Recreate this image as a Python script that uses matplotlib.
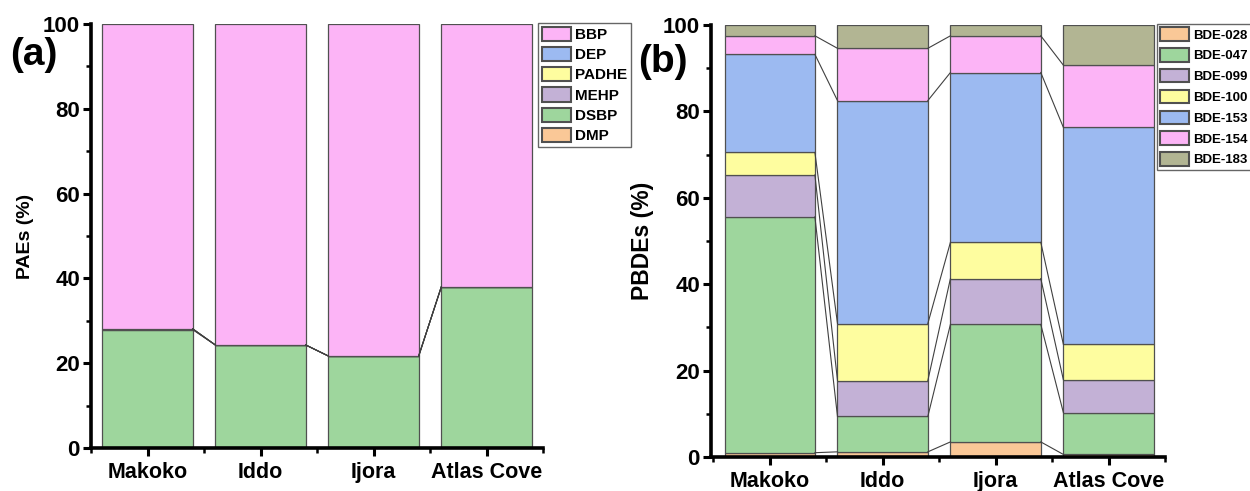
import numpy as np
import matplotlib
matplotlib.use("Agg")
import matplotlib.pyplot as plt
from matplotlib.ticker import MultipleLocator
from matplotlib.patches import Patch

plt.rcParams["font.family"] = ["Liberation Sans", "DejaVu Sans"]
plt.rcParams["font.weight"] = "bold"

sites = ["Makoko", "Iddo", "Ijora", "Atlas Cove"]

# PAEs composition (%) - stacked bottom to top
pae_names = ["DMP", "DSBP", "MEHP", "PADHE", "DEP", "BBP"]
dmp = [0.0, 0.0, 0.0, 0.0]
dsbp = [27.9, 24.3, 21.7, 38.0]
mehp = [0.2, 0.0, 0.0, 0.0]
padhe = [0.0, 0.0, 0.0, 0.0]
dep = [0.0, 0.0, 0.0, 0.0]
bbp = [71.9, 75.7, 78.3, 62.0]

# PBDEs composition (%) - stacked bottom to top
pbde_names = ["BDE-028", "BDE-047", "BDE-099", "BDE-100", "BDE-153", "BDE-154", "BDE-183"]
bde028 = [1.0, 1.2, 3.5, 0.6]
bde047 = [54.6, 8.2, 27.2, 9.7]
bde099 = [9.7, 8.3, 10.6, 7.6]
bde100 = [5.2, 13.2, 8.4, 8.2]
bde153 = [22.7, 51.6, 39.3, 50.2]
bde154 = [4.3, 12.1, 8.5, 14.4]
bde183 = [2.5, 5.4, 2.5, 9.3]

c_orange = "#FAC897"
c_green = "#9ED69D"
c_purple = "#C3B1D6"
c_yellow = "#FEFD9F"
c_blue = "#9CBAF1"
c_pink = "#FCB4F6"
c_olive = "#B2B593"

pae_colors = [c_orange, c_green, c_purple, c_yellow, c_blue, c_pink]
pbde_colors = [c_orange, c_green, c_purple, c_yellow, c_blue, c_pink, c_olive]

x = np.arange(1, len(sites) + 1)
w = 0.8


def stacked(ax, layers, colors):
    bottom = np.zeros(len(x))
    tops = []
    for vals, col in zip(layers, colors):
        vals = np.array(vals)
        ax.bar(x, vals, w, bottom=bottom, color=col, edgecolor="#505050", linewidth=0.9)
        bottom = bottom + vals
        tops.append(bottom.copy())
    # connecting lines between neighbouring bars
    for top in tops[:-1]:
        for i in range(len(x) - 1):
            ax.plot([x[i] + w / 2, x[i + 1] - w / 2], [top[i], top[i + 1]],
                    color="#404040", lw=0.8, zorder=3)


def style(ax, xlo):
    ax.set_xlim(xlo, 4.5)
    ax.set_ylim(0, 100)
    for s in ["top", "right"]:
        ax.spines[s].set_visible(False)
    for s in ["left", "bottom"]:
        ax.spines[s].set_linewidth(2.6)
    ax.set_xticks(x)
    ax.set_xticklabels(sites, fontsize=15.5, fontweight="bold")
    ax.set_xticks([0.5, 1.5, 2.5, 3.5, 4.5], minor=True)
    ax.yaxis.set_major_locator(MultipleLocator(20))
    ax.yaxis.set_minor_locator(MultipleLocator(10))
    ax.tick_params(axis="both", which="major", length=6, width=2.2, direction="out")
    ax.tick_params(axis="both", which="minor", length=3.5, width=1.8, direction="out")
    ax.tick_params(axis="y", labelsize=16, pad=2)
    ax.tick_params(axis="x", pad=4)
    for lab in ax.get_yticklabels():
        lab.set_fontweight("bold")


fig = plt.figure(figsize=(12.5, 4.91), dpi=100)

# (a) PAEs
ax1 = fig.add_axes([0.0728, 0.0876, 0.3616, 0.8635])
stacked(ax1, [dmp, dsbp, mehp, padhe, dep, bbp], pae_colors)
style(ax1, 0.5)
ax1.set_ylabel("PAEs (%)", fontsize=14, fontweight="bold", labelpad=6)
fig.text(0.027, 0.888, "(a)", fontsize=28, fontweight="bold", ha="center", va="center")
h1 = [Patch(facecolor=c, edgecolor="#505050", linewidth=1.5) for c in pae_colors]
fig.legend(h1[::-1], pae_names[::-1], loc="upper left",
           bbox_to_anchor=(0.4304, 0.9532), bbox_transform=fig.transFigure,
           fontsize=11, frameon=True, fancybox=False, edgecolor="#404040",
           handlelength=1.9, handleheight=1.05, labelspacing=0.32,
           handletextpad=0.3, borderpad=0.25, borderaxespad=0)

# (b) PBDEs
ax2 = fig.add_axes([0.5688, 0.0692, 0.3632, 0.8799])
stacked(ax2, [bde028, bde047, bde099, bde100, bde153, bde154, bde183], pbde_colors)
style(ax2, 0.48)
ax2.set_ylabel("PBDEs (%)", fontsize=16.5, fontweight="bold", labelpad=6)
fig.text(0.5304, 0.874, "(b)", fontsize=28, fontweight="bold", ha="center", va="center")
h2 = [Patch(facecolor=c, edgecolor="#505050", linewidth=1.5) for c in pbde_colors]
fig.legend(h2, pbde_names, loc="upper left",
           bbox_to_anchor=(0.9256, 0.9511), bbox_transform=fig.transFigure,
           fontsize=9.5, frameon=True, fancybox=False, edgecolor="#404040",
           handlelength=2.2, handleheight=1.2, labelspacing=0.5,
           handletextpad=0.3, borderpad=0.25, borderaxespad=0)

fig.savefig("out.png", dpi=100)
